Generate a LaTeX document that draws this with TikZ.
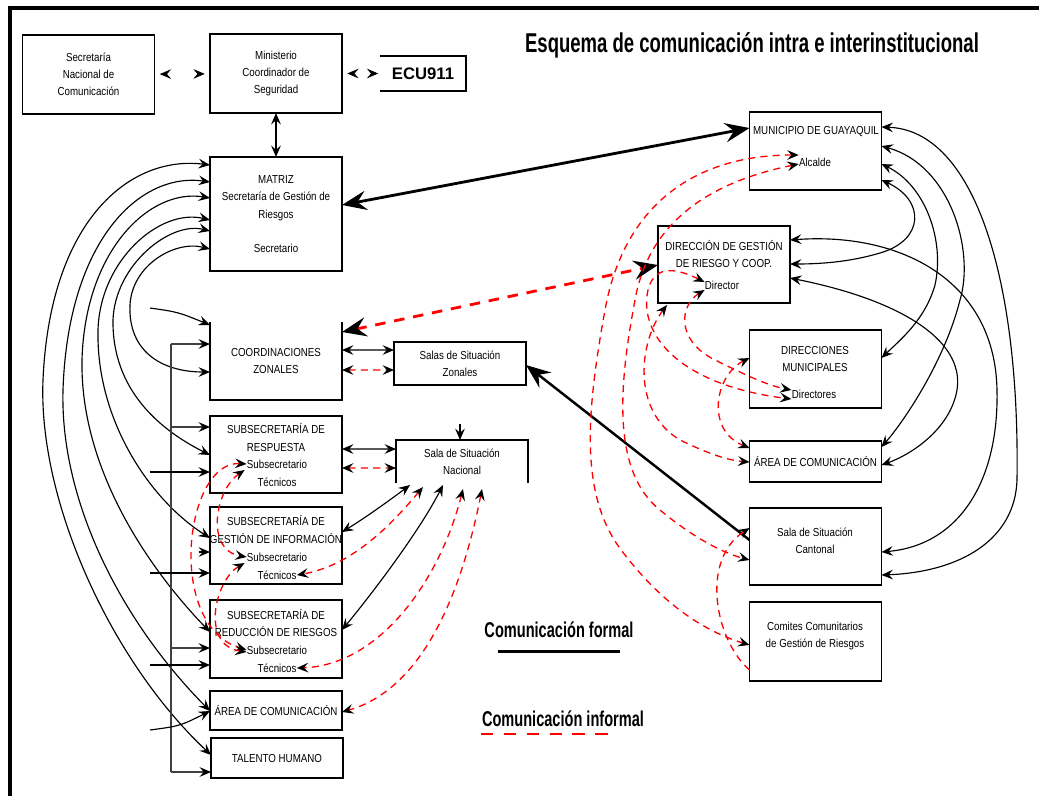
\documentclass[tikz,border=0pt]{standalone}
\usepackage{fontspec}
\setmainfont{Liberation Sans}
\newfontfamily\boxfont{Liberation Sans}[FakeStretch=0.84]
\newfontfamily\headfont{Liberation Sans}[FakeStretch=0.68]
\usetikzlibrary{arrows.meta, calc}

\begin{document}
\begin{tikzpicture}[
        x = 0.02cm, y = -0.02cm, % one unit = one pixel of the scan
        > = {Stealth[length=6.5pt, width=5.5pt, inset=2.4pt, color=black]}, % arrow head style
        bigtip/.tip = {Stealth[length=14pt, width=11pt, inset=5pt, color=black]},
        formal/.style = {line width=0.65pt},
        informal/.style = {draw=red, line width=0.75pt, dash pattern=on 4pt off 3pt},
        bus/.style = {draw=black!75, line width=0.9pt}
    ]

    \tikzstyle{box}=[
        draw = black,
        line width = 0.7pt,
        rectangle,
        inner sep = 0pt,
        outer sep = 0pt,
        minimum width = 2.64cm,
        align = center,
        font = \boxfont\fontsize{6.6}{9.8}\selectfont
    ]
    \tikzstyle{txt}=[inner sep = 0pt, align = center, font = \boxfont\fontsize{6.6}{9.8}\selectfont]

    \useasboundingbox (0,0) rectangle (1039,796);
    \draw[line width=1.8pt] (10,796) -- (10,8) -- (1039,8);

    \node[font=\headfont\bfseries\fontsize{15.5}{18}\selectfont] (title) at (752,45) {Esquema de comunicación intra e interinstitucional};

    % national level
    \node[box, minimum height=1.58cm] (secnac) at (88.5,74.5) {Secretaría\\Nacional de\\Comunicación};
    \node[box, minimum height=1.58cm] (minis) at (276,73.5) {Ministerio\\Coordinador de\\Seguridad};
    \node[box, draw=none, minimum width=1.72cm, minimum height=0.7cm, font=\bfseries\fontsize{9.5}{11}\selectfont] (ecu) at (423,73.5) {ECU911};
    \draw[line width=0.9pt] (ecu.north west) -- (ecu.north east) -- (ecu.south east) -- (ecu.south west);
    \node[box, minimum height=2.28cm] (matriz) at (276,214) {MATRIZ\\Secretaría de Gestión de\\Riesgos\\[9.6pt]Secretario};

    % left column
    \node[box, draw=none, minimum height=1.56cm] (coord) at (276,361) {COORDINACIONES\\ZONALES};
    \draw[line width=0.7pt] (coord.north west) -- (coord.south west) -- (coord.south east) -- (coord.north east);

    \node[box, minimum height=1.54cm] (resp) at (276,454.5) {};
    \node[txt] (resp-t) at (276,437.5) {SUBSECRETARÍA DE\\RESPUESTA};
    \node[txt] (resp-s) at (277,464) {Subsecretario};
    \node[txt] (resp-k) at (277,482) {Técnicos};

    \node[box, minimum height=1.54cm] (ginfo) at (276,545.5) {};
    \node[txt] (ginfo-t) at (276,529.5) {SUBSECRETARÍA DE\\GESTIÓN DE INFORMACIÓN};
    \node[txt] (ginfo-s) at (277,557) {Subsecretario};
    \node[txt] (ginfo-k) at (277,575) {Técnicos};

    \node[box, minimum height=1.56cm] (redu) at (276,639) {};
    \node[txt] (redu-t) at (276,623) {SUBSECRETARÍA DE\\REDUCCIÓN DE RIESGOS};
    \node[txt] (redu-s) at (277,650) {Subsecretario};
    \node[txt] (redu-k) at (277,668) {Técnicos};

    \node[box, minimum height=0.78cm] (areal) at (276,710.5) {ÁREA DE COMUNICACIÓN};
    \node[box, minimum height=0.8cm] (talento) at (277,758) {TALENTO HUMANO};

    % situation rooms
    \node[box, minimum height=0.86cm] (salaz) at (460,363.5) {Salas de Situación\\Zonales};
    \node[box, draw=none, minimum height=0.86cm] (salan) at (462,461.5) {Sala de Situación\\Nacional};
    \draw[line width=0.7pt] (salan.south west) -- (salan.north west) -- (salan.north east) -- (salan.south east);

    % municipal level
    \node[box, minimum height=1.56cm] (muni) at (815.5,151) {};
    \node[txt] (muni-t) at (816,132) {MUNICIPIO DE GUAYAQUIL};
    \node[txt] (alc) at (815,162) {Alcalde};

    \node[box, minimum height=1.54cm] (dgr) at (724,264.5) {};
    \node[txt] (dgr-t) at (724,254) {DIRECCIÓN DE GESTIÓN\\DE RIESGO Y COOP.};
    \node[txt] (dir) at (722,285) {Director};

    \node[box, minimum height=1.56cm] (dirmun) at (815.5,369) {};
    \node[txt] (dirmun-t) at (815,359) {DIRECCIONES\\MUNICIPALES};
    \node[txt] (dirs) at (814,394) {Directores};

    \node[box, minimum height=0.82cm] (arear) at (815.5,461.5) {ÁREA DE COMUNICACIÓN};

    \node[box, minimum height=1.54cm] (cant) at (815.5,546.5) {};
    \node[txt] (cant-t) at (815,540.5) {Sala de Situación\\Cantonal};

    \node[box, minimum height=1.58cm] (comites) at (815.5,641.5) {};
    \node[txt] (comites-t) at (815,636) {Comites Comunitarios\\de Gestión de Riesgos};

    % legend
    \node[font=\headfont\bfseries\fontsize{12.2}{14}\selectfont] (lform) at (559,630) {Comunicación formal};
    \draw[line width=1.7pt] (498,651) -- (620,651);
    \node[font=\headfont\bfseries\fontsize{12.2}{14}\selectfont] (linf) at (563,719) {Comunicación informal};
    \draw[red, line width=1.5pt, dash pattern=on 7pt off 6pt] (481,734) -- (618,734);

    % free ends
    \coordinate (bus) at (171,344);
    \coordinate (busend) at (171,772);
    \coordinate (f1) at (150,308);
    \coordinate (f2) at (150,472);
    \coordinate (f3) at (150,573);
    \coordinate (f4) at (150,665);
    \coordinate (f5) at (150,730);
    \coordinate (salantop) at (460,424);

    % formal links, national level
    \draw[<->, dash pattern=on 0pt off 60pt, shorten <=3pt, shorten >=3pt] (secnac) -- (minis);
    \draw[<->, dash pattern=on 0pt off 60pt, shorten <=3pt, shorten >=1pt] (minis) -- (ecu);
    \draw[<->, line width=1pt] (minis) -- (matriz);
    \draw[bigtip-bigtip, line width=1.6pt] ($(matriz.north east)+(0,48)$) -- ($(muni.north west)+(0,16)$);
    \draw[bigtip-, line width=1.4pt] ($(salaz.north east)+(0,23)$) -- ($(cant.north west)+(0,32)$);
    \draw[bigtip-bigtip, draw=red, line width=1.6pt, dash pattern=on 6pt off 5pt] ($(coord.north east)+(0,10)$) -- ($(dgr.north west)+(0,39)$);

    % MATRIZ to the units
    \draw[<->, formal] ($(matriz.north west)+(0,8)$) .. controls (130,155) and (50,220) .. (43,380) .. controls (38,500) and (110,660) .. ($(talento.north west)+(0,17)$);
    \draw[<->, formal] ($(matriz.north west)+(0,25)$) .. controls (140,172) and (68,240) .. (63,390) .. controls (60,500) and (120,620) .. ($(areal.north west)+(0,20)$);
    \draw[<->, formal] ($(matriz.north west)+(0,41)$) .. controls (150,188) and (85,250) .. (82,360) .. controls (80,470) and (150,570) .. ($(redu.north west)+(0,32)$);
    \draw[<->, formal] ($(matriz.north west)+(0,63)$) .. controls (160,208) and (100,260) .. (98,330) .. controls (96,420) and (150,500) .. ($(ginfo.north west)+(0,31)$);
    \draw[<->, formal] ($(matriz.north west)+(0,74)$) .. controls (170,221) and (115,265) .. (113,320) .. controls (112,390) and (160,430) .. ($(resp.north west)+(0,39)$);
    \draw[<->, formal] ($(matriz.north west)+(0,92)$) .. controls (175,240) and (132,265) .. (130,305) .. controls (128,350) and (160,372) .. ($(coord.north west)+(0,50)$);

    % internal bus
    \draw[bus] (bus) -- (busend);
    \draw[->, bus] (bus) -- ($(coord.north west)+(0,22)$);
    \draw[->, bus] ($(resp.north west)+(-39,11)$) -- ++(39,0);
    \draw[->, bus] ($(redu.north west)+(-39,48)$) -- ++(39,0);
    \draw[->, bus] (busend) -- ($(talento.north west)+(0,34)$);

    % incoming arrows on the left
    \draw[->, formal] (f1) .. controls (178,312) .. ($(coord.north west)+(0,3)$);
    \draw[->, line width=0.9pt] (f2) -- ($(resp.north west)+(0,56)$);
    \draw[->, formal] ($(ginfo.north west)+(-11,45)$) -- ++(11,0);
    \draw[->, line width=0.9pt] (f3) -- ($(ginfo.north west)+(0,66)$);
    \draw[->, line width=0.9pt] (f4) -- ($(redu.north west)+(0,65)$);
    \draw[->, formal] (f5) .. controls (180,726) .. ($(areal.north west)+(0,20)$);

    % zonal and national rooms
    \draw[<->, formal] ($(coord.north east)+(0,28)$) -- ($(salaz.north west)+(0,8)$);
    \draw[<->, informal] ($(coord.north east)+(0,48)$) -- ($(salaz.north west)+(0,28)$);
    \draw[<->, formal] ($(resp.north east)+(0,33)$) -- ($(salan.north west)+(0,9)$);
    \draw[<->, informal] ($(resp.north east)+(0,52)$) -- ($(salan.north west)+(0,28)$);
    \draw[->, formal] (salantop) -- (salantop |- salan.north);
    \draw[<->, formal] ($(salan.south west)+(14,2)$) .. controls (390,500) and (365,518) .. ($(ginfo.north east)+(0,25)$);
    \draw[<->, formal] ($(salan.south west)+(47,2)$) .. controls (420,530) and (375,590) .. ($(redu.north east)+(0,30)$);
    \draw[<->, informal] ($(salan.south west)+(27,4)$) .. controls (395,520) and (355,565) .. (ginfo-k.east);
    \draw[<->, informal] ($(salan.south west)+(67,6)$) .. controls (440,580) and (380,665) .. (redu-k.east);
    \draw[<->, informal] ($(salan.south west)+(86,6)$) .. controls (460,600) and (420,690) .. ($(areal.north east)+(0,21)$);

    % between the undersecretaries
    \draw[<->, informal] (resp-s.west) .. controls (185,460) and (165,625) .. (redu-s.west);
    \draw[<->, informal] ($(resp-s.west)+(-2,6)$) .. controls (215,490) and (205,550) .. (ginfo-s.west);
    \draw[<->, informal] ($(ginfo-s.west)+(-2,6)$) .. controls (215,580) and (200,645) .. ($(redu-s.west)+(0,2)$);

    % municipal formal links
    \draw[<->, formal] ($(muni.north east)+(0,15)$) .. controls (975,130) and (1020,280) .. (1017,480) .. controls (1015,540) and (960,572) .. ($(cant.north east)+(0,67)$);
    \draw[<->, formal] ($(muni.north east)+(0,34)$) .. controls (950,165) and (975,250) .. (960,300) .. controls (945,360) and (905,420) .. ($(arear.north east)+(0,6)$);
    \draw[<->, formal] ($(muni.north east)+(0,52)$) .. controls (925,185) and (945,240) .. (935,285) .. controls (925,320) and (900,340) .. ($(dirmun.north east)+(0,28)$);
    \draw[<->, formal] ($(muni.north east)+(0,68)$) .. controls (925,200) and (925,240) .. (880,253) .. controls (850,262) and (820,264) .. ($(dgr.north east)+(0,38)$);
    \draw[<->, formal] ($(dgr.north east)+(0,14)$) .. controls (900,232) and (995,280) .. (997,390) .. controls (999,480) and (960,545) .. ($(cant.north east)+(0,44)$);
    \draw[<->, formal] ($(dgr.north east)+(0,52)$) .. controls (900,300) and (965,340) .. (957,390) .. controls (950,430) and (910,455) .. ($(arear.north east)+(0,24)$);

    % municipal informal links
    \draw[<->, informal] ($(alc.west)+(0,-7)$) .. controls (700,155) and (625,200) .. (605,310) .. controls (585,420) and (580,500) .. (625,555) .. controls (660,600) and (700,630) .. ($(comites.north west)+(0,43)$);
    \draw[<->, informal] ($(alc.west)+(0,2)$) .. controls (720,180) and (650,215) .. (635,300) .. controls (620,380) and (610,470) .. (660,510) .. controls (690,535) and (720,552) .. ($(cant.north west)+(0,52)$);
    \draw[<->, informal] ($(dir.west)+(0,-3)$) .. controls (680,270) and (655,262) .. (648,290) .. controls (638,335) and (680,385) .. ($(dirs.west)+(0,5)$);
    \draw[<->, informal] ($(dir.west)+(0,5)$) .. controls (680,305) and (675,340) .. (715,360) .. controls (740,372) and (765,385) .. ($(dirs.west)+(0,-4)$);
    \draw[<->, informal] ($(dgr.south west)+(9,2)$) .. controls (640,340) and (630,410) .. (680,440) .. controls (705,452) and (725,460) .. ($(arear.north west)+(0,21)$);
    \draw[<->, informal] ($(dirmun.north west)+(0,28)$) .. controls (715,375) and (705,430) .. ($(arear.north west)+(0,7)$);
    \draw[->, informal] ($(comites.north west)+(0,68)$) .. controls (715,640) and (700,560) .. ($(cant.north west)+(0,20)$);

\end{tikzpicture}
\end{document}
